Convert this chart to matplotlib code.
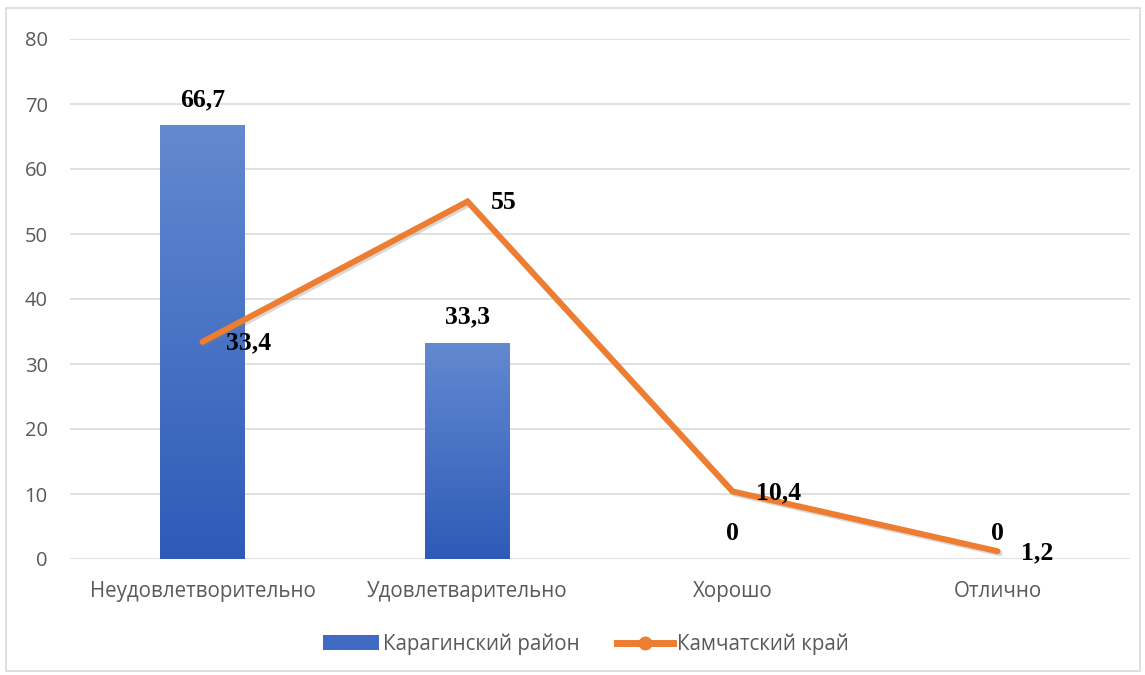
import matplotlib
matplotlib.use("Agg")
import matplotlib.pyplot as plt
import numpy as np
from matplotlib.lines import Line2D
from matplotlib.patches import Rectangle
import matplotlib.patheffects as pe

categories = ["Неудовлетворительно", "Удовлетварительно", "Хорошо", "Отлично"]
bar_values = [66.7, 33.3, 0, 0]
line_values = [33.4, 55, 10.4, 1.2]
bar_labels = ["66,7", "33,3", "0", "0"]
line_labels = ["33,4", "55", "10,4", "1,2"]
series_names = ["Карагинский район", "Камчатский край"]
yticks = [0, 10, 20, 30, 40, 50, 60, 70, 80]

W, H = 1145, 675
fig = plt.figure(figsize=(W / 100, H / 100), dpi=100)
ax = fig.add_axes([70 / W, 116 / H, 1060 / W, 520 / H])

# figure border
fig.add_artist(Rectangle((6 / W, 4 / H), 1134 / W, 663 / H, transform=fig.transFigure,
                         fill=False, edgecolor="#D9D9D9", linewidth=1.2))

x = np.arange(len(categories))

top_c = np.array([0x63, 0x89, 0xD0]) / 255
bot_c = np.array([0x2E, 0x5B, 0xB8]) / 255
grad = np.linspace(0, 1, 256)[:, None]
img = (top_c[None, None, :] * grad[:, :, None] + bot_c[None, None, :] * (1 - grad[:, :, None]))

bars = ax.bar(x, bar_values, width=0.32, color="#4472C4", zorder=2)
for b in bars:
    h = b.get_height()
    if h <= 0:
        continue
    bx, bw = b.get_x(), b.get_width()
    im = ax.imshow(img, extent=[bx, bx + bw, 0, h], origin="lower", aspect="auto", zorder=2.1)
    im.set_clip_path(b)

ax.set_xlim(-0.5, 3.5)
ax.set_ylim(0, 80)

ax.plot(x, line_values, color="#ED7D31", linewidth=4.3, solid_capstyle="round",
        solid_joinstyle="miter", zorder=3,
        path_effects=[pe.SimpleLineShadow(offset=(1.5, -1.5), shadow_color="gray", alpha=0.3),
                      pe.Normal()])

lab_font = dict(family="Liberation Serif", fontweight="bold", fontsize=18.5, color="black")
for xi, v, t in zip(x, bar_values, bar_labels):
    ax.annotate(t, (xi, v), xytext=(0, 10), textcoords="offset points",
                ha="center", va="bottom", zorder=5, **lab_font)
for xi, v, t in zip(x, line_values, line_labels):
    ax.annotate(t, (xi, v), xytext=(17, -1), textcoords="offset points",
                ha="left", va="center", zorder=5, **lab_font)

ax.set_yticks(yticks)
ax.set_xticks(x)
ax.set_xticklabels(categories)
ax.yaxis.grid(True, color="#D9D9D9", linewidth=1.1, zorder=0)
ax.set_axisbelow(True)
for s in ax.spines.values():
    s.set_visible(False)
ax.tick_params(axis="both", length=0, colors="#595959")
ax.tick_params(axis="y", pad=16, labelsize=14.5)
ax.tick_params(axis="x", pad=16, labelsize=14.8)
for lbl in ax.get_xticklabels() + ax.get_yticklabels():
    lbl.set_family("Open Sans")

handles = [Rectangle((0, 0), 1, 1, facecolor="#3F6CC2"),
           Line2D([0], [0], color="#ED7D31", linewidth=5, marker="o", markersize=9)]
leg = fig.legend(handles, series_names, loc="center", bbox_to_anchor=(586 / W, 1 - 644 / H),
                 ncol=2, frameon=False, handlelength=2.7, handletextpad=0.2, columnspacing=1.85,
                 prop=dict(family="Open Sans", size=14.8))
for t in leg.get_texts():
    t.set_color("#595959")

fig.savefig("out.png", dpi=100)
